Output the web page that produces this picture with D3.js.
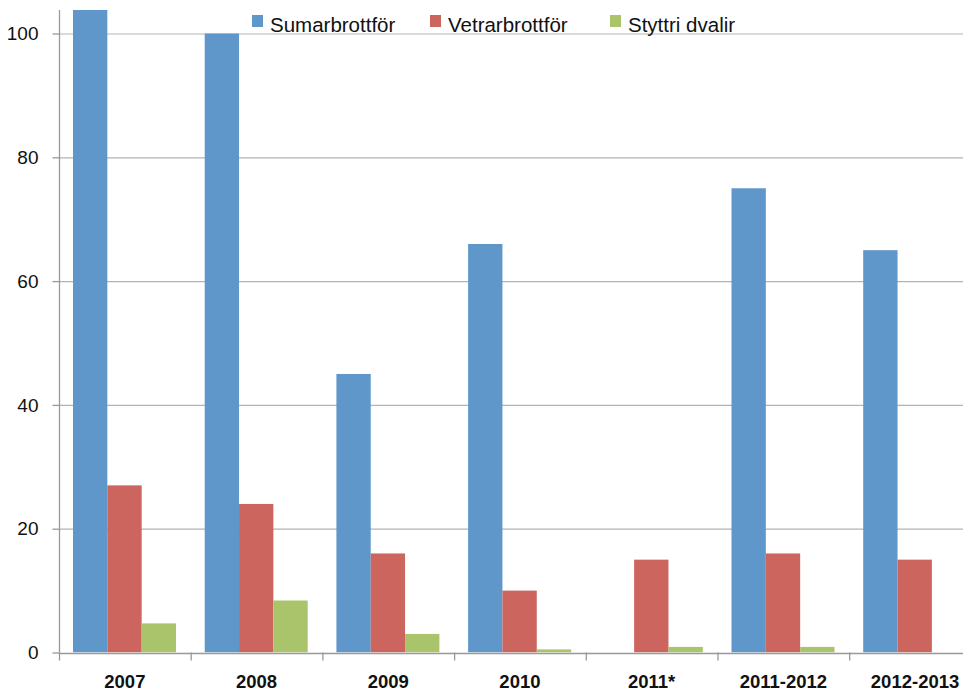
<!DOCTYPE html>
<html>
<head>
<meta charset="utf-8">
<script src="https://cdn.jsdelivr.net/npm/d3@7"></script>
<style>
  body { margin: 0; background: #fff; }
  svg { display: block; font-family: "Liberation Sans", Arial, sans-serif; }
</style>
</head>
<body>
<svg id="chart" width="963" height="691"></svg>
<script>
// data
var categories = ["2007", "2008", "2009", "2010", "2011*", "2011-2012", "2012-2013"]
var seriesNames = ["Sumarbrottför", "Vetrarbrottför", "Styttri dvalir"]
var sumar  = [110, 100, 45, 66, null, 75, 65]
var vetrar = [27, 24, 16, 10, 15, 16, 15]
var styttri = [4.7, 8.4, 3, 0.5, 0.9, 0.9, null]
var yTicks = [0, 20, 40, 60, 80, 100]
var colors = ["#6097CA", "#CD655F", "#AAC46B"]

var svg = d3.select("#chart")

var plotLeft = 59, plotTop = 10, plotBottom = 652.5
var band = 131.7

var x0 = d3.scaleBand()
  .domain(categories)
  .range([plotLeft, plotLeft + band * categories.length])
  .padding(0)

var x1 = d3.scaleBand()
  .domain(d3.range(seriesNames.length))
  .range([14, 117])
  .padding(0)

var y = d3.scaleLinear().domain([0, 103.8]).range([plotBottom, plotTop])

// clip so the 2007 bar runs off the top like the original
svg.append("clipPath").attr("id", "plot")
  .append("rect")
  .attr("x", plotLeft).attr("y", plotTop)
  .attr("width", 963 - plotLeft).attr("height", plotBottom - plotTop)

// gridlines
svg.append("g")
  .selectAll("line")
  .data(yTicks.filter(function(d) { return d > 0 }))
  .enter().append("line")
  .attr("x1", plotLeft).attr("x2", 963)
  .attr("y1", function(d) { return y(d) + 0.5 })
  .attr("y2", function(d) { return y(d) + 0.5 })
  .attr("stroke", "#b3b3b3")
  .attr("stroke-width", 1.2)

// bars
var rows = categories.map(function(c, i) {
  return { cat: c, vals: [sumar[i], vetrar[i], styttri[i]] }
})

var groups = svg.append("g")
  .attr("clip-path", "url(#plot)")
  .selectAll("g")
  .data(rows)
  .enter().append("g")
  .attr("transform", function(d) { return "translate(" + x0(d.cat) + ",0)" })

groups.selectAll("rect")
  .data(function(d) {
    return d.vals.map(function(v, k) { return { k: k, v: v } })
      .filter(function(e) { return e.v != null })
  })
  .enter().append("rect")
  .attr("x", function(d) { return x1(d.k) })
  .attr("width", x1.bandwidth())
  .attr("y", function(d) { return y(d.v) })
  .attr("height", function(d) { return plotBottom - y(d.v) })
  .attr("fill", function(d) { return colors[d.k] })

// y axis
var yAxis = svg.append("g")
  .attr("transform", "translate(" + (plotLeft + 0.5) + ",0)")
  .call(d3.axisLeft(y).tickValues(yTicks).tickSize(7).tickPadding(14).tickFormat(d3.format("d")))
yAxis.select(".domain").attr("stroke", "#999").attr("stroke-width", 1.3)
  .attr("d", "M0," + plotTop + "V" + plotBottom)
yAxis.selectAll(".tick line").attr("stroke", "#999").attr("stroke-width", 1.3)
yAxis.selectAll(".tick text")
  .attr("font-size", "19px")
  .attr("fill", "#111")
  .attr("font-family", "Liberation Sans, Arial, sans-serif")

// x axis
var xAxis = svg.append("g")
  .attr("transform", "translate(0," + (plotBottom + 0.5) + ")")
  .call(d3.axisBottom(x0).tickSize(0).tickPadding(22))
xAxis.select(".domain").attr("stroke", "#999").attr("stroke-width", 1.3)
xAxis.selectAll(".tick text")
  .attr("font-size", "18.5px")
  .attr("font-weight", "bold")
  .attr("fill", "#111")
  .attr("font-family", "Liberation Sans, Arial, sans-serif")

svg.append("g")
  .selectAll("line")
  .data(categories)
  .enter().append("line")
  .attr("x1", function(d) { return x0(d) + 0.5 })
  .attr("x2", function(d) { return x0(d) + 0.5 })
  .attr("y1", plotBottom)
  .attr("y2", plotBottom + 8)
  .attr("stroke", "#999")
  .attr("stroke-width", 1.3)

// legend
var legendX = [252, 430, 610]
var legend = svg.append("g")
  .selectAll("g")
  .data(seriesNames)
  .enter().append("g")
  .attr("transform", function(d, i) { return "translate(" + legendX[i] + ",15)" })

legend.append("rect")
  .attr("width", 11).attr("height", 12)
  .attr("fill", function(d, i) { return colors[i] })

legend.append("text")
  .attr("x", 18).attr("y", 17)
  .attr("font-size", "20.5px")
  .attr("fill", "#111")
  .text(function(d) { return d })
</script>
</body>
</html>
